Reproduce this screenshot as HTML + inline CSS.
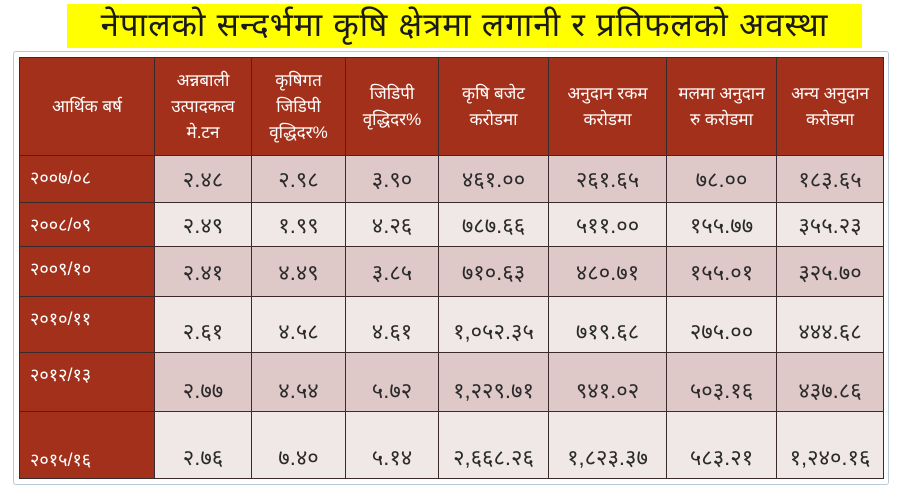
<!DOCTYPE html>
<html><head><meta charset="utf-8"><style>
body{margin:0;width:900px;height:492px;background:#fff;position:relative;overflow:hidden;font-family:"Liberation Sans","Noto Sans CJK SC",sans-serif}
.title{position:absolute;left:67px;top:4px;width:795px;height:44px;background:#ffff00;color:#1a1a1a;font-size:33px;text-align:center;line-height:42px;letter-spacing:1px}
.frame{position:absolute;left:13px;top:51px;width:874px;height:432px;border:1px solid #b9cbd6;border-radius:3px}
table{position:absolute;left:19px;top:57px;border-collapse:collapse;table-layout:fixed}
td{border:1.5px solid #3a2a2a;text-align:center;color:#2a2a2a;font-size:22px;padding:0}
td.h{background:#a3301a;color:#fff;font-size:17px;line-height:26px;padding:0 8px}
td.y{background:#a3301a;color:#fff;font-size:18px;text-align:left;padding-left:10px;vertical-align:top;padding-top:10px}
tr.d td{background:#dfc9c8}
tr.l td{background:#f0e8e7}
tr.d td.y,tr.l td.y{background:#a3301a}
td.b{vertical-align:bottom;padding-bottom:6px}
</style></head><body>
<div class="title">नेपालको सन्दर्भमा कृषि क्षेत्रमा लगानी र प्रतिफलको अवस्था</div>
<div class="frame"></div>
<table>
<colgroup><col style="width:135px"><col style="width:97px"><col style="width:94px"><col style="width:93px"><col style="width:110px"><col style="width:118px"><col style="width:110px"><col style="width:107px"></colgroup>
<tr style="height:98px"><td class="h">आर्थिक बर्ष</td><td class="h">अन्नबाली उत्पादकत्व मे.टन</td><td class="h">कृषिगत जिडिपी वृद्धिदर%</td><td class="h">जिडिपी वृद्धिदर%</td><td class="h">कृषि बजेट करोडमा</td><td class="h">अनुदान रकम करोडमा</td><td class="h">मलमा अनुदान रु करोडमा</td><td class="h">अन्य अनुदान करोडमा</td></tr>
<tr class="d" style="height:47px"><td class="y">२००७/०८</td><td>२.४८</td><td>२.९८</td><td>३.९०</td><td>४६१.००</td><td>२६१.६५</td><td>७८.००</td><td>१८३.६५</td></tr>
<tr class="l" style="height:44px"><td class="y">२००८/०९</td><td>२.४९</td><td>१.९९</td><td>४.२६</td><td>७८७.६६</td><td>५११.००</td><td>१५५.७७</td><td>३५५.२३</td></tr>
<tr class="d" style="height:50px"><td class="y">२००९/१०</td><td>२.४१</td><td>४.४९</td><td>३.८५</td><td>७१०.६३</td><td>४८०.७१</td><td>१५५.०१</td><td>३२५.७०</td></tr>
<tr class="l" style="height:56px"><td class="y">२०१०/११</td><td class="b">२.६१</td><td class="b">४.५८</td><td class="b">४.६१</td><td class="b">१,०५२.३५</td><td class="b">७१९.६८</td><td class="b">२७५.००</td><td class="b">४४४.६८</td></tr>
<tr class="d" style="height:59px"><td class="y">२०१२/१३</td><td class="b">२.७७</td><td class="b">४.५४</td><td class="b">५.७२</td><td class="b">१,२२९.७१</td><td class="b">९४१.०२</td><td class="b">५०३.१६</td><td class="b">४३७.८६</td></tr>
<tr class="l" style="height:67px"><td class="y b">२०१५/१६</td><td class="b">२.७६</td><td class="b">७.४०</td><td class="b">५.१४</td><td class="b">२,६६८.२६</td><td class="b">१,८२३.३७</td><td class="b">५८३.२१</td><td class="b">१,२४०.१६</td></tr>
</table>
</body></html>
